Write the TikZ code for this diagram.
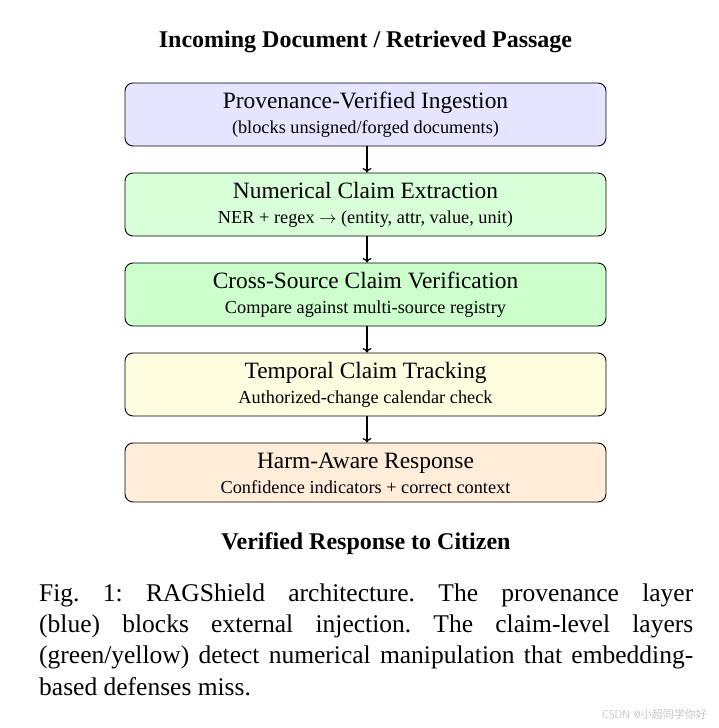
\documentclass[tikz,border=0pt]{standalone}
\usepackage{fontspec}
\setmainfont{Liberation Serif}
\newfontfamily\cjkfont{Noto Sans CJK SC}
\usetikzlibrary{arrows.meta}
\begin{document}
\begin{tikzpicture}[x=1pt,y=-1pt,
  box/.style={draw, rounded corners=8pt, minimum width=481pt, minimum height=63pt,
    inner sep=0pt, line width=0.9pt},
  ttl/.style={anchor=base, inner sep=0pt, font=\fontsize{23.4}{26}\selectfont},
  sub/.style={anchor=base, inner sep=0pt, font=\fontsize{18.3}{20}\selectfont},
  arr/.style={-{To[length=4.5pt,width=9pt]}, line width=1.3pt},
  head/.style={anchor=base, inner sep=0pt, font=\bfseries\fontsize{24}{28}\selectfont}
]
\useasboundingbox (0,0) rectangle (718,728);
\node[head] (top) at (365.5,47) {Incoming Document / Retrieved Passage};
% boxes
\node[box, fill=blue!10] (b1) at (365.5,114.5) {};
\node[box, fill=green!15] (b2) at (365.5,204.5) {};
\node[box, fill=green!20] (b3) at (365.5,294.5) {};
\node[box, fill=yellow!12] (b4) at (365.5,384.5) {};
\node[box, fill=orange!15, minimum height=59pt] (b5) at (365.5,472.5) {};
% texts
\node[ttl] (t1) at (365.5,108.5) {Provenance-Verified Ingestion};
\node[sub] (s1) at (365.5,133) {(blocks unsigned/forged documents)};
\node[ttl] (t2) at (365.5,198.5) {Numerical Claim Extraction};
\node[sub] (s2) at (365.5,223) {NER + regex $\rightarrow$ (entity, attr, value, unit)};
\node[ttl] (t3) at (365.5,288.5) {Cross-Source Claim Verification};
\node[sub] (s3) at (365.5,313) {Compare against multi-source registry};
\node[ttl] (t4) at (365.5,378.5) {Temporal Claim Tracking};
\node[sub] (s4) at (365.5,403) {Authorized-change calendar check};
\node[ttl] (t5) at (365.5,468) {Harm-Aware Response};
\node[sub] (s5) at (365.5,493) {Confidence indicators + correct context};
% arrows
\draw[arr] (b1.south -| 367,0) -- (b2.north -| 367,0);
\draw[arr] (b2.south -| 367,0) -- (b3.north -| 367,0);
\draw[arr] (b3.south -| 367,0) -- (b4.north -| 367,0);
\draw[arr] (b4.south -| 367,0) -- (b5.north -| 367,0);
\node[head] (bot) at (366,549) {Verified Response to Citizen};
\node[anchor=north west, inner sep=0pt, text width=654pt, align=justify,
  font=\fontsize{25.5}{31.2}\selectfont] (cap) at (39,583.5)
  {\frenchspacing Fig.~1: RAGShield architecture. The provenance layer\linebreak
   (blue) blocks external injection. The claim-level layers\linebreak
   (green/yellow) detect numerical manipulation that embedding-\linebreak
   based defenses miss.};
\node[anchor=east, inner sep=0pt, text=gray!45, font=\fontsize{11}{12}\selectfont] (wm) at (707,714)
  {\sffamily CSDN @\cjkfont 小超同学你好};
\end{tikzpicture}
\end{document}
